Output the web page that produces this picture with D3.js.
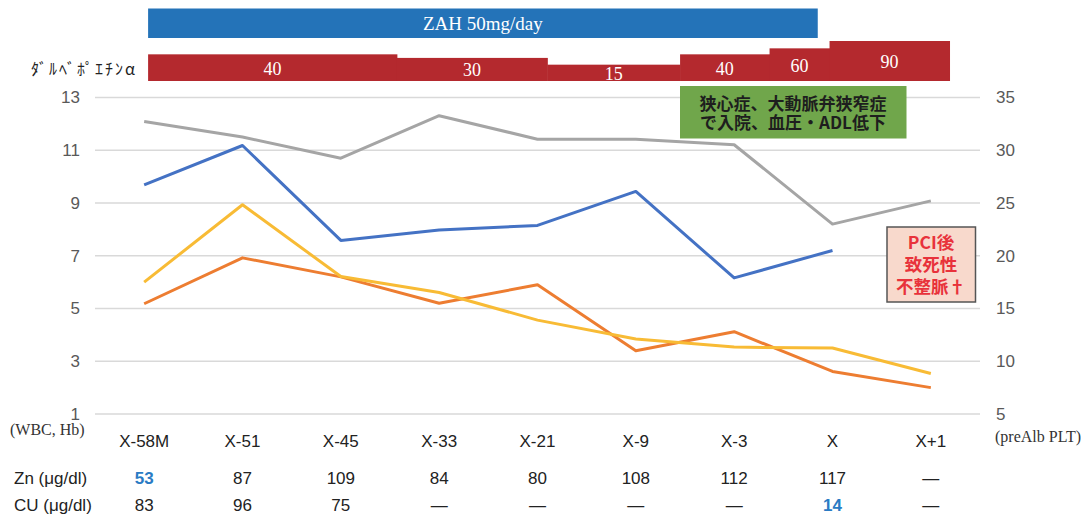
<!DOCTYPE html>
<html>
<head>
<meta charset="utf-8">
<script src="https://cdn.jsdelivr.net/npm/d3@7"></script>
<style>
  html, body { margin: 0; padding: 0; background: #fff; }
  svg { display: block; }
</style>
</head>
<body>
<svg id="chart" width="1092" height="517"></svg>
<script>
// Time points (x axis)
const categories = ["X-58M", "X-51", "X-45", "X-33", "X-21", "X-9", "X-3", "X", "X+1"];

// Left axis series (WBC, Hb)
const wbc = [9.69, 11.18, 7.58, 7.98, 8.15, 9.44, 6.16, 7.20, null];
const hb  = [12.09, 11.50, 10.70, 12.31, 11.42, 11.42, 11.21, 8.20, 9.08];

// Right axis series (preAlb, PLT)
const preAlb = [15.45, 19.8, 18.0, 15.5, 17.25, 11.0, 12.8, 9.03, 7.5];
const plt    = [17.5, 24.83, 18.03, 16.52, 13.9, 12.1, 11.34, 11.25, 8.84];

// Axis ticks
const leftTicks  = [1, 3, 5, 7, 9, 11, 13];
const rightTicks = [5, 10, 15, 20, 25, 30, 35];

// Trace elements table
const zn = [53, 87, 109, 84, 80, 108, 112, 117, null];
const cu = [83, 96, 75, null, null, null, null, 14, null];
const znLow = 60, cuLow = 70;

// Darbepoetin alfa dose schedule (µg), start/end as positions on the time index
const doseValues = [40, 30, 15, 40, 60, 90];
const doseStart  = [0.04, 2.57, 4.10, 5.45, 6.36, 6.97];
const doseEnd    = [2.57, 4.10, 5.45, 6.36, 6.97, 8.19];

// Zinc acetate hydrate period
const zahLabel = "ZAH 50mg/day";
const zahStart = 0.04, zahEnd = 6.85;

const svg = d3.select("#chart");
const plot = { left: 95, right: 980, top: 97.5, bottom: 414 };

const pos = d3.scaleLinear().domain([-0.5, categories.length - 0.5]).range([plot.left, plot.right]);
const x = d3.scalePoint().domain(categories).range([pos(0), pos(categories.length - 1)]);
const yL = d3.scaleLinear().domain([1, 13]).range([plot.bottom, plot.top]);
const yR = d3.scaleLinear().domain([5, 35]).range([plot.bottom, plot.top]);

const sansFont = "Liberation Sans, Arial, sans-serif";
const serifFont = "Liberation Serif, Times New Roman, serif";
const jpFont = "Noto Sans CJK JP, sans-serif";

// Gridlines
svg.append("g")
  .selectAll("line")
  .data(leftTicks)
  .join("line")
  .attr("x1", plot.left).attr("x2", plot.right)
  .attr("y1", d => yL(d)).attr("y2", d => yL(d))
  .attr("stroke", "#d9d9d9").attr("stroke-width", 1.5);

// Left axis
const gL = svg.append("g").attr("transform", `translate(${plot.left},0)`)
  .call(d3.axisLeft(yL).tickValues(leftTicks).tickSize(0).tickPadding(15));
gL.select(".domain").remove();
gL.selectAll("text").attr("font-family", sansFont).attr("font-size", 17).attr("fill", "#595959");

// Right axis
const gR = svg.append("g").attr("transform", `translate(${plot.right},0)`)
  .call(d3.axisRight(yR).tickValues(rightTicks).tickSize(0).tickPadding(16));
gR.select(".domain").remove();
gR.selectAll("text").attr("font-family", sansFont).attr("font-size", 17).attr("fill", "#595959");

// Axis unit captions
svg.append("text").attr("x", 10).attr("y", 429).attr("dominant-baseline", "central")
  .attr("font-family", serifFont).attr("font-size", 16).attr("fill", "#333")
  .text("(WBC, Hb)");
svg.append("text").attr("x", 995).attr("y", 436).attr("dominant-baseline", "central")
  .attr("font-family", serifFont).attr("font-size", 16).attr("fill", "#333")
  .text("(preAlb PLT)");

// Lines
const series = [
  { values: wbc,    y: yL, color: "#4472c4" },
  { values: preAlb, y: yR, color: "#ed7d31" },
  { values: hb,     y: yL, color: "#a5a5a5" },
  { values: plt,    y: yR, color: "#f8bb35" }
];
series.forEach(s => {
  const line = d3.line()
    .defined(d => d.v != null)
    .x(d => x(d.c))
    .y(d => s.y(d.v));
  svg.append("path")
    .datum(categories.map((c, i) => ({ c, v: s.values[i] })))
    .attr("d", line)
    .attr("fill", "none")
    .attr("stroke", s.color)
    .attr("stroke-width", 3)
    .attr("stroke-linejoin", "round");
});

// Category labels
svg.append("g").selectAll("text").data(categories).join("text")
  .attr("x", d => x(d)).attr("y", 441)
  .attr("text-anchor", "middle").attr("dominant-baseline", "central")
  .attr("font-family", sansFont).attr("font-size", 17).attr("fill", "#222")
  .text(d => d);

// Table rows
const rows = [
  { label: "Zn (μg/dl)", values: zn, low: znLow, y: 478 },
  { label: "CU (μg/dl)", values: cu, low: cuLow, y: 505 }
];
rows.forEach(r => {
  svg.append("text").attr("x", 14).attr("y", r.y).attr("dominant-baseline", "central")
    .attr("font-family", sansFont).attr("font-size", 17).attr("fill", "#222")
    .text(r.label);
  svg.append("g").selectAll("text").data(categories).join("text")
    .attr("x", d => x(d)).attr("y", r.y)
    .attr("text-anchor", "middle").attr("dominant-baseline", "central")
    .attr("font-family", sansFont).attr("font-size", 17)
    .attr("fill", (d, i) => r.values[i] != null && r.values[i] < r.low ? "#2a7bc4" : "#222")
    .attr("font-weight", (d, i) => r.values[i] != null && r.values[i] < r.low ? "bold" : "normal")
    .text((d, i) => r.values[i] == null ? "—" : r.values[i]);
});

// ZAH period bar
svg.append("rect")
  .attr("x", pos(zahStart)).attr("y", 8.5)
  .attr("width", pos(zahEnd) - pos(zahStart)).attr("height", 29.5)
  .attr("fill", "#2473b8");
svg.append("text")
  .attr("x", (pos(zahStart) + pos(zahEnd)) / 2).attr("y", 23.5)
  .attr("text-anchor", "middle").attr("dominant-baseline", "central")
  .attr("font-family", serifFont).attr("font-size", 19).attr("fill", "#fff")
  .text(zahLabel);

// Darbepoetin dose steps
const doseBase = 81;
const doseH = d3.scaleSqrt().domain([0, 90]).range([0, 40]);
const doses = doseValues.map((v, i) => ({ v, s: doseStart[i], e: doseEnd[i] }));
svg.append("g").selectAll("rect").data(doses).join("rect")
  .attr("x", d => pos(d.s)).attr("y", d => doseBase - doseH(d.v))
  .attr("width", d => pos(d.e) - pos(d.s) + 0.5).attr("height", d => doseH(d.v))
  .attr("fill", "#b4292e");
svg.append("g").selectAll("text").data(doses).join("text")
  .attr("x", d => (pos(d.s) + pos(d.e)) / 2)
  .attr("y", d => doseBase - doseH(d.v) / 2 + 1)
  .attr("text-anchor", "middle").attr("dominant-baseline", "central")
  .attr("font-family", serifFont).attr("font-size", 18).attr("fill", "#fff")
  .text(d => d.v);
svg.append("text").attr("x", 135).attr("y", 68)
  .attr("text-anchor", "end").attr("dominant-baseline", "central")
  .attr("font-family", jpFont).attr("font-size", 16).attr("fill", "#222")
  .attr("textLength", 104).attr("lengthAdjust", "spacing")
  .text("ﾀﾞﾙﾍﾞﾎﾟｴﾁﾝα");

// Admission note
const note1 = svg.append("g");
note1.append("rect").attr("x", 680).attr("y", 86).attr("width", 226.5).attr("height", 52.5)
  .attr("fill", "#70a64b");
["狭心症、大動脈弁狭窄症", "で入院、血圧・ADL低下"].forEach((t, i) => {
  note1.append("text").attr("x", 793).attr("y", 102 + i * 19)
    .attr("text-anchor", "middle").attr("dominant-baseline", "central")
    .attr("font-family", jpFont).attr("font-size", 17).attr("font-weight", "bold")
    .attr("fill", "#1e1e1e").text(t);
});

// Outcome note
const note2 = svg.append("g");
note2.append("rect").attr("x", 887).attr("y", 227).attr("width", 88.5).attr("height", 75)
  .attr("fill", "#f8d9cc").attr("stroke", "#555").attr("stroke-width", 1.5);
["PCI後", "致死性", "不整脈†"].forEach((t, i) => {
  note2.append("text").attr("x", 931).attr("y", 241 + i * 22)
    .attr("text-anchor", "middle").attr("dominant-baseline", "central")
    .attr("font-family", jpFont).attr("font-size", 17.5).attr("font-weight", "bold")
    .attr("fill", "#e8323b").text(t);
});
</script>
</body>
</html>
